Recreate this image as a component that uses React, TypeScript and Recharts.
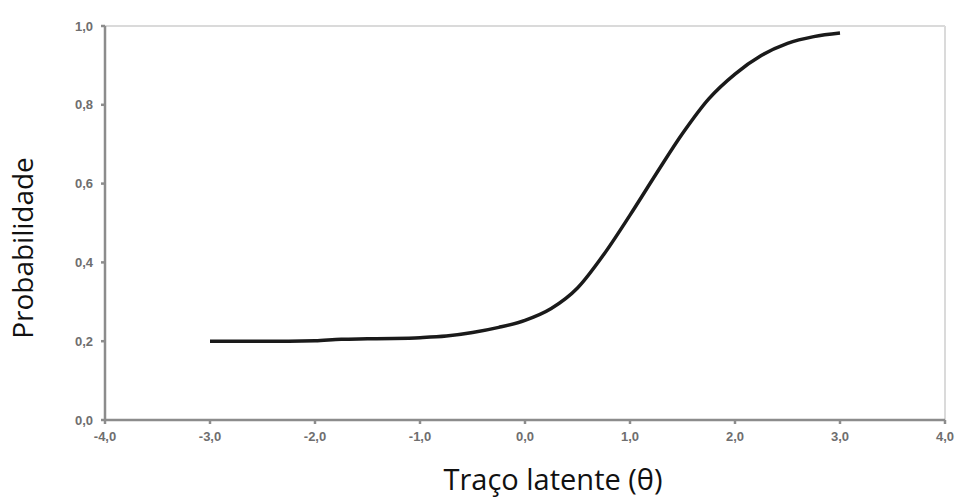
import { LineChart, Line, XAxis, YAxis, ReferenceLine } from "recharts";

// theta values and probability
const theta = [
  -3.0, -2.75, -2.5, -2.25, -2.0, -1.75, -1.5, -1.25, -1.0, -0.75, -0.5, -0.25,
  0.0, 0.25, 0.5, 0.75, 1.0, 1.25, 1.5, 1.75, 2.0, 2.25, 2.5, 2.75, 3.0,
];
const prob = [
  0.2, 0.2, 0.2, 0.2, 0.201, 0.205, 0.206, 0.207, 0.209, 0.213, 0.222, 0.235,
  0.253, 0.283, 0.335, 0.42, 0.52, 0.625, 0.727, 0.815, 0.878, 0.925, 0.956, 0.973, 0.982,
];
const xTicks = [-4, -3, -2, -1, 0, 1, 2, 3, 4];
const yTicks = [0, 0.2, 0.4, 0.6, 0.8, 1.0];

const data = theta.map((t, i) => ({ theta: t, p: prob[i] }));

const fmt = (v: number) => v.toFixed(1).replace(".", ",");

const tickStyle = {
  fontFamily: "Liberation Sans, Arial, sans-serif",
  fontSize: 13,
  fontWeight: 700,
  fill: "#6e6e6e",
};

export default function App() {
  return (
    <div style={{ position: "absolute", left: 0, top: 0, width: 956, height: 500, background: "#fff" }}>
      <LineChart
        width={956}
        height={500}
        data={data}
        margin={{ top: 26, right: 11, bottom: 50, left: 0 }}
      >
        <ReferenceLine y={1} stroke="#dadada" strokeWidth={2} />
        <ReferenceLine x={4} stroke="#dadada" strokeWidth={2} />
        <XAxis
          dataKey="theta"
          type="number"
          domain={[-4, 4]}
          ticks={xTicks}
          tickFormatter={fmt}
          height={30}
          stroke="#8c8c8c"
          strokeWidth={2.5}
          tickSize={4}
          tickMargin={8}
          tick={tickStyle}
        />
        <YAxis
          type="number"
          domain={[0, 1]}
          ticks={yTicks}
          tickFormatter={fmt}
          width={105}
          stroke="#8c8c8c"
          strokeWidth={2.5}
          tickSize={4}
          tickMargin={8}
          tick={tickStyle}
        />
        <Line
          dataKey="p"
          type="monotone"
          stroke="#1a1a1a"
          strokeWidth={3.5}
          dot={false}
          isAnimationActive={false}
        />
      </LineChart>
      <div
        style={{
          position: "absolute",
          left: 22,
          top: 248,
          transform: "translate(-50%, -50%) rotate(-90deg)",
          fontFamily: "'Open Sans', sans-serif",
          fontSize: 28,
          color: "#111",
          whiteSpace: "nowrap",
        }}
      >
        Probabilidade
      </div>
      <div
        style={{
          position: "absolute",
          left: 553,
          top: 479,
          transform: "translate(-50%, -50%)",
          fontFamily: "'Open Sans', sans-serif",
          fontSize: 29,
          lineHeight: "34px",
          color: "#111",
          whiteSpace: "nowrap",
        }}
      >
        Traço latente (θ)
      </div>
    </div>
  );
}
